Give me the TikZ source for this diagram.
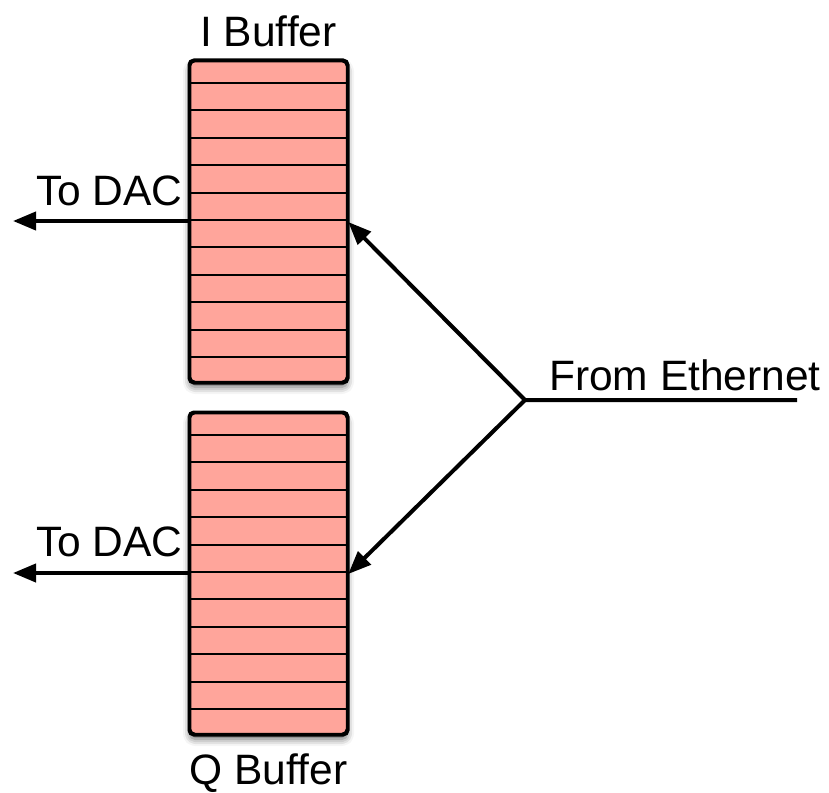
\documentclass[tikz,border=0pt]{standalone}
\usepackage{fontspec}
\setmainfont{Liberation Sans}
\usetikzlibrary{arrows.meta,calc,shadows.blur}
\definecolor{bufferfill}{RGB}{255,165,155}

\begin{document}
\begin{tikzpicture}[x=1pt,y=-1pt,
  buffer/.style={draw=black, line width=2.5pt, fill=bufferfill,
    rounded corners=5pt, minimum width=157pt, minimum height=321pt,
    inner sep=0pt,
    blur shadow={shadow xshift=0pt, shadow yshift=-5pt,
      shadow blur radius=7pt, shadow opacity=60}},
  outline/.style={draw=black, line width=2.5pt, rounded corners=5pt},
  slot/.style={line width=2pt},
  wire/.style={line width=4pt, line join=miter,
    -{Triangle[length=23pt,width=18pt]}},
  label/.style={font=\fontsize{42.5}{50}\selectfont, inner sep=0pt}]
\useasboundingbox (0,0) rectangle (829,792);

% the two sample buffers
\node[buffer] (ibuf) at (268.5,221.5) {};
\node[buffer] (qbuf) at (268.5,573.5) {};

% slot dividers, then the outline again on top
\foreach \b in {ibuf,qbuf}{
  \foreach \k in {0,...,10}{
    \draw[slot] ($(\b.north west)+(0,23.3+27.4*\k)$) --
                ($(\b.north east)+(0,23.3+27.4*\k)$);
  }
  \draw[outline] (\b.north west) rectangle (\b.south east);
}

% labels
\node[label, anchor=base] (ilabel) at (268.5,46) {I Buffer};
\node[label, anchor=base] (qlabel) at (268.5,784) {Q Buffer};
\node[label, anchor=base west] (idaclabel) at (36,205) {To DAC};
\node[label, anchor=base west] (qdaclabel) at (36,556) {To DAC};
\node[label, anchor=base west] (ethlabel) at (549,390) {From Ethernet};

% connection points
\coordinate (iout) at (ibuf.west |- 0,221);
\coordinate (qout) at (qbuf.west |- 0,573);
\coordinate (idac) at (13,221);
\coordinate (qdac) at (13,573);
\coordinate (iin) at (ibuf.east |- 0,222);
\coordinate (qin) at (qbuf.east |- 0,574);
\coordinate (junc) at (525,400);
\coordinate (eth) at (797,400);

% outputs towards the DAC
\draw[wire] (iout) -- (idac);
\draw[wire] (qout) -- (qdac);

% Ethernet feed split to both buffers
\draw[wire] (eth) -- (junc) -- (iin);
\draw[wire] (junc) -- (qin);
\end{tikzpicture}
\end{document}
